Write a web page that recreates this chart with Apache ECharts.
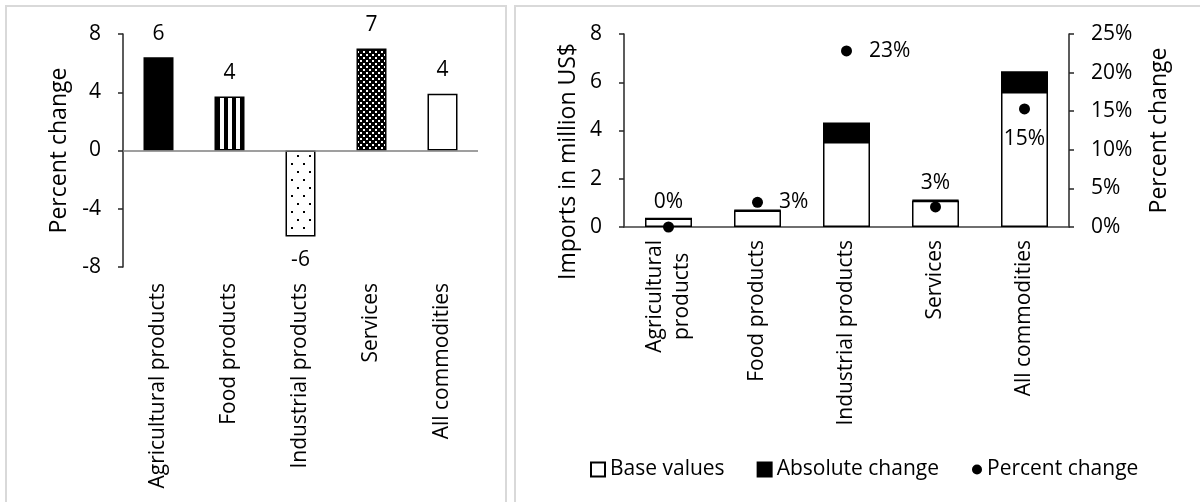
<!DOCTYPE html>
<html>
<head>
<meta charset="utf-8">
<script src="https://cdn.jsdelivr.net/npm/echarts@6/dist/echarts.min.js"></script>
<style>
  html, body { margin: 0; padding: 0; background: #fff; }
  #chart { width: 1200px; height: 502px; }
</style>
</head>
<body>
<div id="chart"></div>
<script>
// Commodity groups shown on both panels
const categories = ['Agricultural products', 'Food products', 'Industrial products', 'Services', 'All commodities'];
const importTickLabels = ['Agricultural\nproducts', 'Food products', 'Industrial products', 'Services', 'All commodities'];

// Left panel: percent change by commodity group
const percentChange = [6.4, 3.7, -5.9, 7.0, 3.9];

// Right panel: imports in million US$ and percent change
const baseValues = [0.35, 0.68, 3.52, 1.09, 5.6];
const absoluteChange = [0.0, 0.02, 0.81, 0.03, 0.86];
const importPercent = [0.0, 3.2, 22.8, 2.6, 15.3];

// Axis ticks
const leftTicks = { min: -8, max: 8, interval: 4 };
const importTicks = { min: 0, max: 8, interval: 2 };
const pctTicks = { min: 0, max: 25, interval: 5 };

const FONT = 'Open Sans';
const INK = '#000';

// --- fill patterns for the left panel bars ---
function tile(w, h, draw) {
  const c = document.createElement('canvas');
  c.width = w; c.height = h;
  const ctx = c.getContext('2d');
  draw(ctx);
  return { image: c, repeat: 'repeat' };
}
const stripes = tile(8, 8, ctx => {
  ctx.fillStyle = '#fff'; ctx.fillRect(0, 0, 8, 8);
  ctx.fillStyle = '#000'; ctx.fillRect(0, 0, 4, 8);
});
const sparseDots = tile(12, 16, ctx => {
  ctx.fillStyle = '#fff'; ctx.fillRect(0, 0, 12, 16);
  ctx.fillStyle = '#000';
  ctx.fillRect(3, 3, 2, 2);
  ctx.fillRect(9, 11, 2, 2);
});
const denseCheck = tile(6, 6, ctx => {
  ctx.fillStyle = '#000'; ctx.fillRect(0, 0, 6, 6);
  ctx.fillStyle = '#fff';
  ctx.fillRect(0, 0, 2, 2);
  ctx.fillRect(3, 3, 2, 2);
});
const barFills = ['#000', stripes, sparseDots, denseCheck, '#fff'];

// Label placement for the percent-change dots
const dotLabelPos = ['top', 'right', 'right', 'top', 'bottom'];
const dotLabelDist = [9, 16, 17, 8, 14];

const axisText = { color: INK, fontFamily: FONT, fontSize: 21 };
const titleText = { color: INK, fontFamily: FONT, fontSize: 23 };
const legendText = { color: INK, fontFamily: FONT, fontSize: 21 };

const chart = echarts.init(document.getElementById('chart'), null, { renderer: 'canvas' });

chart.setOption({
  animation: false,
  textStyle: { fontFamily: FONT, color: INK },
  graphic: [
    { type: 'rect', shape: { x: 6, y: 6, width: 500, height: 520 },
      style: { fill: 'none', stroke: '#d9d9d9', lineWidth: 2 }, silent: true },
    { type: 'rect', shape: { x: 515, y: 6, width: 700, height: 520 },
      style: { fill: 'none', stroke: '#d9d9d9', lineWidth: 2 }, silent: true }
  ],
  grid: [
    { left: 123, top: 34, width: 355, height: 233 },
    { left: 624, top: 34, width: 445, height: 193 }
  ],
  legend: [
    {
      left: 585, top: 454, itemGap: 32, itemWidth: 14, itemHeight: 14, icon: 'rect',
      textStyle: legendText,
      data: ['Base values', 'Absolute change'],
      selectedMode: false
    },
    {
      left: 967, top: 454, itemWidth: 10, itemHeight: 10, icon: 'circle',
      textStyle: legendText,
      data: ['Percent change'],
      selectedMode: false
    }
  ],
  xAxis: [
    {
      type: 'category', gridIndex: 0, data: categories,
      axisLine: { show: false }, axisTick: { show: false },
      axisLabel: { ...axisText, rotate: 90, margin: 16, interval: 0 }
    },
    {
      type: 'category', gridIndex: 1, data: importTickLabels,
      axisLine: { show: true, lineStyle: { color: '#404040', width: 1.5 } },
      axisTick: { show: false },
      axisLabel: {
        ...axisText, rotate: 90, margin: 13, interval: 0, lineHeight: 27,
        formatter: v => v.indexOf('\n') < 0 ? v : v.split('\n').map(s => '{c|' + s + '}').join('\n'),
        rich: { c: { align: 'center', fontFamily: FONT, fontSize: 21, color: INK, lineHeight: 27 } }
      }
    }
  ],
  yAxis: [
    {
      type: 'value', gridIndex: 0, ...leftTicks,
      name: 'Percent change', nameLocation: 'middle', nameGap: 52, nameRotate: 90,
      nameTextStyle: titleText,
      axisLine: { show: true, lineStyle: { color: '#262626', width: 1.5 } },
      axisTick: { show: true, length: 5, lineStyle: { color: '#262626', width: 1.5 } },
      axisLabel: { ...axisText, margin: 22 },
      splitLine: { show: false }
    },
    {
      type: 'value', gridIndex: 1, ...importTicks,
      name: 'Imports in million US$', nameLocation: 'middle', nameGap: 44, nameRotate: 90,
      // title sits a little below the middle of the axis
      nameTextStyle: { ...titleText, padding: [0, 62, 0, 0] },
      axisLine: { show: true, lineStyle: { color: '#262626', width: 1.5 } },
      axisTick: { show: true, length: 5, lineStyle: { color: '#262626', width: 1.5 } },
      axisLabel: { ...axisText, margin: 22 },
      splitLine: { show: false }
    },
    {
      type: 'value', gridIndex: 1, position: 'right', ...pctTicks,
      name: 'Percent change', nameLocation: 'middle', nameGap: 79, nameRotate: 90,
      nameTextStyle: titleText,
      axisLine: { show: true, lineStyle: { color: '#262626', width: 1.5 } },
      axisTick: { show: true, length: 5, lineStyle: { color: '#262626', width: 1.5 } },
      axisLabel: { ...axisText, margin: 22, formatter: '{value}%' },
      splitLine: { show: false }
    }
  ],
  series: [
    {
      name: 'Percent change by group', type: 'bar', xAxisIndex: 0, yAxisIndex: 0,
      barWidth: 30,
      data: percentChange.map((v, i) => ({
        value: v,
        itemStyle: { color: barFills[i] },
        label: { position: v < 0 ? 'bottom' : 'top' }
      })),
      itemStyle: { borderColor: '#000', borderWidth: 1.5 },
      label: {
        show: true, distance: 13, color: INK, fontFamily: FONT, fontSize: 21,
        formatter: p => String(Math.round(p.value))
      },
      markLine: {
        silent: true, symbol: 'none', label: { show: false },
        lineStyle: { color: '#7f7f7f', width: 1.5, type: 'solid' },
        data: [{ yAxis: 0 }]
      }
    },
    {
      name: 'Base values', type: 'bar', xAxisIndex: 1, yAxisIndex: 1, stack: 'imports',
      barWidth: 47, data: baseValues,
      itemStyle: { color: '#fff', borderColor: '#000', borderWidth: 1.5 }
    },
    {
      name: 'Absolute change', type: 'bar', xAxisIndex: 1, yAxisIndex: 1, stack: 'imports',
      barWidth: 47, data: absoluteChange,
      itemStyle: { color: '#000', borderColor: '#000', borderWidth: 1.5 }
    },
    {
      name: 'Percent change', type: 'scatter', xAxisIndex: 1, yAxisIndex: 2,
      symbol: 'circle', symbolSize: 11, z: 5,
      itemStyle: { color: '#000', opacity: 1 },
      data: importPercent.map((v, i) => ({
        value: v,
        label: { position: dotLabelPos[i], distance: dotLabelDist[i] }
      })),
      label: {
        show: true, color: INK, fontFamily: FONT, fontSize: 21,
        formatter: p => Math.round(p.value) + '%'
      }
    }
  ]
});
</script>
</body>
</html>
